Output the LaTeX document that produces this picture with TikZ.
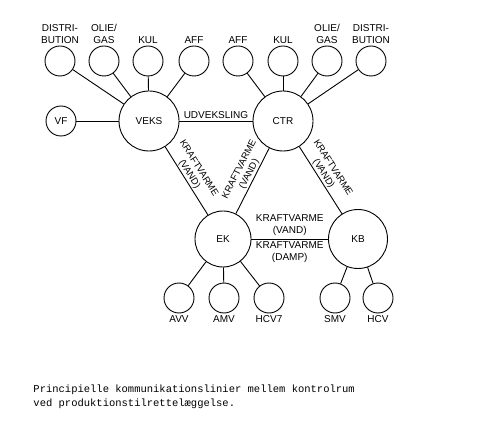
\documentclass[tikz,border=0pt]{standalone}
\usepackage{fontspec}
\setmainfont{Liberation Sans}
\newfontfamily\typewriter{Liberation Mono}
\usepackage{tikz}

\begin{document}
\begin{tikzpicture}[x=1pt,y=-1pt,line width=0.9pt,
    font=\fontsize{10}{12}\selectfont,
    hub/.style={draw,circle,minimum size=60pt,inner sep=0pt},
    unit/.style={draw,circle,minimum size=30pt,inner sep=0pt},
    tag/.style={align=center,inner sep=1.5pt},
    slopetag/.style={tag,sloped,above,inner sep=1pt,font=\fontsize{9.5}{11}\selectfont}]
    \useasboundingbox (0,0) rectangle (500,430);
    % Control rooms
    \node[hub] (veks) at (149,121) {VEKS};
    \node[hub] (ctr) at (283,121) {CTR};
    \node[hub,minimum size=56pt] (ek) at (223,239) {EK};
    \node[hub,minimum size=59pt] (kb) at (358,239) {KB};
    % Links between control rooms
    \draw (veks) -- node[tag,above] {UDVEKSLING} (ctr);
    \draw (veks) -- node[slopetag,pos=0.45] {KRAFTVARME\\(VAND)} (ek);
    \draw (ek) -- node[slopetag,pos=0.56] {KRAFTVARME\\(VAND)} (ctr);
    \draw (ctr) -- node[slopetag,pos=0.45] {KRAFTVARME\\(VAND)} (kb);
    \draw (ek) -- node[tag,above,inner sep=2.5pt] {KRAFTVARME\\(VAND)}
                  node[tag,below,inner sep=2.5pt] {KRAFTVARME\\(DAMP)} (kb);
    % Units under VEKS
    \node[unit] (vf) at (61,121) {VF};
    \draw (vf) -- (veks);
    \foreach \nm/\x/\txt in {vdist/60/{DISTRI-\\BUTION},volie/104/{OLIE/\\GAS},vkul/148/KUL,vaff/194/AFF} {
      \node[unit,label={[tag]above:\txt}] (\nm) at (\x,61) {};
      \draw (veks) -- (\nm);
    }
    % Units under CTR
    \foreach \nm/\x/\txt in {caff/238/AFF,ckul/283/KUL,colie/327/{OLIE/\\GAS},cdist/371/{DISTRI-\\BUTION}} {
      \node[unit,label={[tag]above:\txt}] (\nm) at (\x,61) {};
      \draw (ctr) -- (\nm);
    }
    % Units under EK and KB
    \foreach \nm/\x/\txt in {avv/179/AVV,amv/224/AMV,hcvs/269/HCV7} {
      \node[unit,label={[tag]below:\txt}] (\nm) at (\x,298) {};
      \draw (ek) -- (\nm);
    }
    \foreach \nm/\x/\txt in {smv/335/SMV,hcv/378/HCV} {
      \node[unit,label={[tag]below:\txt}] (\nm) at (\x,298) {};
      \draw (kb) -- (\nm);
    }
    % Caption
    \node[anchor=base west,inner sep=0pt,font=\typewriter\fontsize{10.5}{12}\selectfont] (cap1) at (33,392)
      {Principielle kommunikationslinier mellem kontrolrum};
    \node[anchor=base west,inner sep=0pt,font=\typewriter\fontsize{10.5}{12}\selectfont] (cap2) at (33,406)
      {ved produktionstilrettelæggelse.};
  \end{tikzpicture}
\end{document}
